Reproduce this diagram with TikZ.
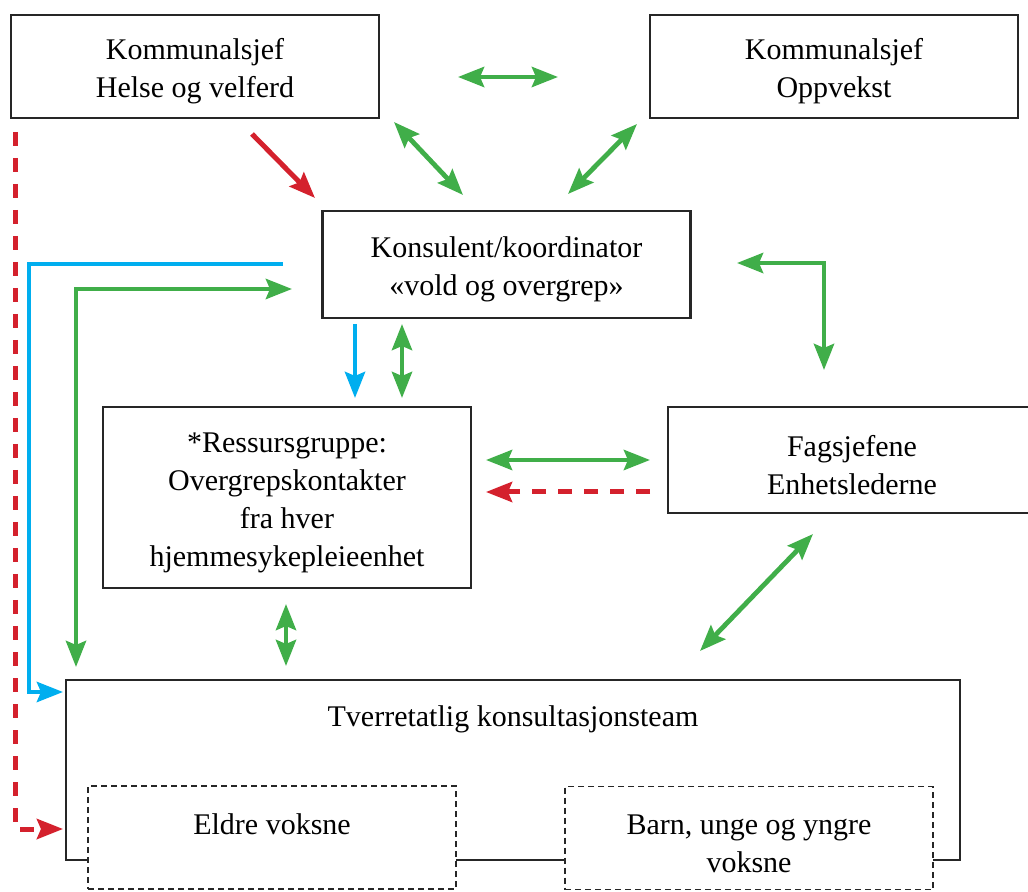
\documentclass[tikz,border=0pt]{standalone}
\usepackage{fontspec}
\setmainfont{Liberation Serif}
\usetikzlibrary{arrows.meta}

\definecolor{pilgreen}{RGB}{64,174,73}
\definecolor{pilred}{RGB}{212,33,45}
\definecolor{pilblue}{RGB}{0,174,239}

% extra room above the first line, so the text sits a little lower
\newcommand{\toprule}{\rule{0pt}{15.5pt}}

\tikzset{
  box/.style={draw=black!85, line width=1.2pt, fill=white, align=center,
    minimum width=184pt, minimum height=51.5pt,
    font=\fontsize{15pt}{19pt}\selectfont},
  subbox/.style={box, dashed, line width=0.9pt, dash pattern=on 3pt off 2pt},
  tip/.style={-{Stealth[length=13pt, width=10pt, inset=2pt]}},
  bitip/.style={{Stealth[length=13pt, width=10pt, inset=2pt]}-{Stealth[length=13pt, width=10pt, inset=2pt]}},
  green/.style={draw=pilgreen, line width=2.4pt},
  redline/.style={draw=pilred, line width=2.5pt},
  blueline/.style={draw=pilblue, line width=2.4pt},
  reddash/.style={redline, dash pattern=on 7pt off 6pt}
}

\begin{document}
\begin{tikzpicture}[x=0.5pt, y=-0.5pt]
    \useasboundingbox (0, 0) rectangle (1028, 892);

    % Boxes
    \node[box] (helse) at (195, 66.5) {\toprule Kommunalsjef\\Helse og velferd};
    \node[box] (oppvekst) at (834, 66.5) {\toprule Kommunalsjef\\Oppvekst};
    \node[box, minimum height=53.5pt] (konsulent) at (506.5, 264.5)
      {\toprule Konsulent/koordinator\\«vold og overgrep»};
    \node[box, minimum height=90.5pt] (ressurs) at (287, 497.5)
      {\toprule *Ressursgruppe:\\Overgrepskontakter\\fra hver\\hjemmesykepleieenhet};
    \node[box, minimum height=53pt] (fagsjef) at (852, 460)
      {\toprule Fagsjefene\\Enhetslederne};
    \node[box, minimum width=447pt, minimum height=90pt,
      label={[anchor=north, yshift=-10pt, font=\fontsize{15pt}{19pt}\selectfont]north:Tverretatlig konsultasjonsteam}]
      (team) at (513, 770) {};
    \node[subbox] (eldre) at (272, 837.5) {\toprule Eldre voksne\\\mbox{}};
    \node[subbox] (barn) at (749, 838) {\toprule Barn, unge og yngre\\voksne};

    % Free ends of the connectors
    \coordinate (A1) at (458, 77);
    \coordinate (A2) at (558, 77);
    \coordinate (B1) at (394, 122);
    \coordinate (B2) at (463, 195);
    \coordinate (C1) at (637, 124);
    \coordinate (C2) at (568, 194);
    \coordinate (D1) at (252, 134);
    \coordinate (D2) at (315, 198);

    % Lines round the left side
    \coordinate (E1) at (15, 132);
    \coordinate (E2) at (15, 829);
    \coordinate (E3) at (63, 829);
    \coordinate (F1) at (283, 264);
    \coordinate (F2) at (29, 264);
    \coordinate (F3) at (29, 692);
    \coordinate (F4) at (63, 692);
    \coordinate (G1) at (292, 289);
    \coordinate (G2) at (76, 289);
    \coordinate (G3) at (76, 667);

    % Below the coordinator
    \coordinate (H1) at (355, 324);
    \coordinate (H2) at (355, 398);
    \coordinate (I1) at (402, 324);
    \coordinate (I2) at (402, 398);
    \coordinate (J1) at (737, 263);
    \coordinate (J2) at (824, 263);
    \coordinate (J3) at (824, 370);

    % Between the groups
    \coordinate (K1) at (486, 460);
    \coordinate (K2) at (650, 460);
    \coordinate (L1) at (650, 492);
    \coordinate (L2) at (486, 492);
    \coordinate (M1) at (813, 534);
    \coordinate (M2) at (700, 651);
    \coordinate (N1) at (286, 604);
    \coordinate (N2) at (286, 666);

    \draw[green, bitip] (A1) -- (A2);
    \draw[green, bitip] (B1) -- (B2);
    \draw[green, bitip] (C1) -- (C2);
    \draw[redline, tip] (D1) -- (D2);

    \draw[reddash, tip] (E1) -- (E2) -- (E3);
    \draw[blueline, tip] (F1) -- (F2) -- (F3) -- (F4);
    \draw[green, bitip] (G1) -- (G2) -- (G3);

    \draw[blueline, tip] (H1) -- (H2);
    \draw[green, bitip] (I1) -- (I2);
    \draw[green, bitip] (J1) -- (J2) -- (J3);

    \draw[green, bitip] (K1) -- (K2);
    \draw[reddash, tip] (L1) -- (L2);
    \draw[green, bitip] (M1) -- (M2);
    \draw[green, bitip] (N1) -- (N2);
  \end{tikzpicture}
\end{document}
